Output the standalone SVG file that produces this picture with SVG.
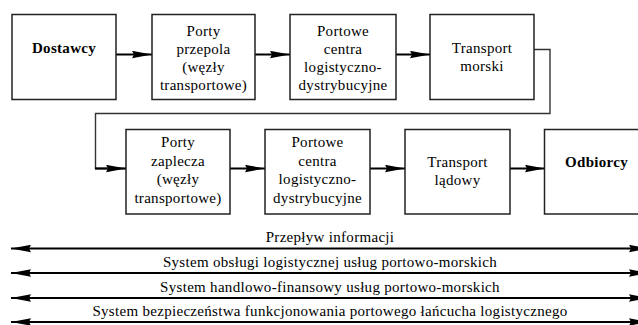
<svg xmlns="http://www.w3.org/2000/svg" width="638" height="325" viewBox="0 0 638 325">
<style>
.box{fill:#fff;stroke:#222;stroke-width:1.5}
.t{font-family:"Liberation Serif","Times New Roman",serif;font-size:15px;letter-spacing:0.3px;fill:#000;text-anchor:middle}
.b{font-weight:bold}
.arr{stroke:#000;stroke-width:2.2;fill:none}
.loop{stroke:#333;stroke-width:1.4;fill:none}
</style>
<defs>
<marker id="ah" viewBox="0 0 20 8" refX="20" refY="4" markerWidth="20" markerHeight="8" markerUnits="userSpaceOnUse" orient="auto-start-reverse">
<path d="M0,0.3 L20,4 L0,7.7 L2,4 Z" fill="#000"/>
</marker>
</defs>
<g id="connectors">
<line class="arr" x1="116" y1="54.5" x2="152" y2="54.5" marker-end="url(#ah)"/>
<line class="arr" x1="255" y1="54.5" x2="290" y2="54.5" marker-end="url(#ah)"/>
<line class="arr" x1="396" y1="54.5" x2="430" y2="54.5" marker-end="url(#ah)"/>
<polyline class="loop" points="534,49.5 550,49.5 550,113.5 95.5,113.5 95.5,168.5 110,168.5"/>
<line class="arr" x1="95" y1="168.5" x2="126" y2="168.5" marker-end="url(#ah)"/>
<line class="arr" x1="230" y1="168.5" x2="265" y2="168.5" marker-end="url(#ah)"/>
<line class="arr" x1="370" y1="168.5" x2="405" y2="168.5" marker-end="url(#ah)"/>
<line class="arr" x1="510" y1="168.5" x2="545" y2="168.5" marker-end="url(#ah)"/>
<line class="arr" x1="11" y1="248.5" x2="649" y2="248.5" marker-start="url(#ah)" marker-end="url(#ah)"/>
<line class="arr" x1="11" y1="273" x2="649" y2="273" marker-start="url(#ah)" marker-end="url(#ah)"/>
<line class="arr" x1="11" y1="298" x2="649" y2="298" marker-start="url(#ah)" marker-end="url(#ah)"/>
<line class="arr" x1="11" y1="322" x2="649" y2="322" marker-start="url(#ah)" marker-end="url(#ah)"/>
</g>
<g id="n1"><rect class="box" x="12" y="14.5" width="104" height="85"/><text class="t b" x="64" y="53">Dostawcy</text></g>
<g id="n2"><rect class="box" x="152" y="14.5" width="103" height="85"/>
<text class="t" x="203.5" y="36">Porty</text><text class="t" x="203.5" y="54">przepola</text><text class="t" x="203.5" y="72">(węzły</text><text class="t" x="203.5" y="90">transportowe)</text></g>
<g id="n3"><rect class="box" x="290" y="14.5" width="106" height="85"/>
<text class="t" x="343" y="36">Portowe</text><text class="t" x="343" y="54">centra</text><text class="t" x="343" y="72">logistyczno-</text><text class="t" x="343" y="90">dystrybucyjne</text></g>
<g id="n4"><rect class="box" x="430" y="14.5" width="104" height="85"/>
<text class="t" x="482" y="53">Transport</text><text class="t" x="482" y="71">morski</text></g>
<g id="n5"><rect class="box" x="126" y="129.5" width="104" height="84.5"/>
<text class="t" x="178" y="147">Porty</text><text class="t" x="178" y="165.5">zaplecza</text><text class="t" x="178" y="184">(węzły</text><text class="t" x="178" y="202.5">transportowe)</text></g>
<g id="n6"><rect class="box" x="265" y="129.5" width="105" height="84.5"/>
<text class="t" x="317.5" y="147">Portowe</text><text class="t" x="317.5" y="165.5">centra</text><text class="t" x="317.5" y="184">logistyczno-</text><text class="t" x="317.5" y="202.5">dystrybucyjne</text></g>
<g id="n7"><rect class="box" x="405" y="129.5" width="105" height="84.5"/>
<text class="t" x="457.5" y="166.5">Transport</text><text class="t" x="457.5" y="185">lądowy</text></g>
<g id="n8"><rect class="box" x="544.5" y="129.5" width="104" height="84.5"/>
<text class="t b" x="596.5" y="166.5">Odbiorcy</text></g>
<g id="labels">
<text class="t" x="330" y="242">Przepływ informacji</text>
<text class="t" x="330" y="267">System obsługi logistycznej usług portowo-morskich</text>
<text class="t" x="330" y="291.5">System handlowo-finansowy usług portowo-morskich</text>
<text class="t" x="330" y="316">System bezpieczeństwa funkcjonowania portowego łańcucha logistycznego</text>
</g>
</svg>
